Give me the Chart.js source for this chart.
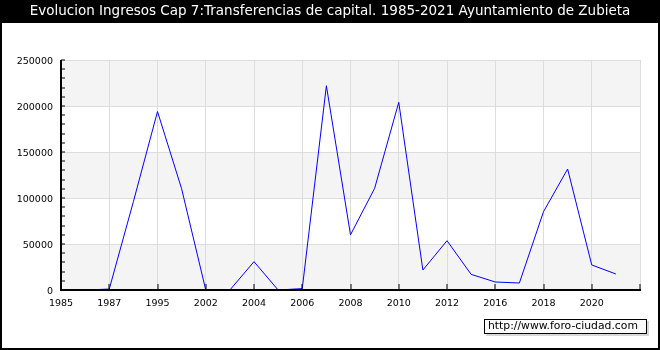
<!DOCTYPE html>
<html>
<head>
<meta charset="utf-8">
<script src="https://cdn.jsdelivr.net/npm/chart.js@4.4.1/dist/chart.umd.min.js"></script>
<style>
  html, body { margin: 0; padding: 0; background: #fff; }
  #wrap { width: 660px; height: 350px; position: relative; }
</style>
</head>
<body>
<div id="wrap"><canvas id="chart"></canvas></div>
<script>
// Years on the category axis (every other one gets a label)
const years = ["1985", "1986", "1987", "1990", "1995", "1999", "2002", "2003", "2004", "2005",
  "2006", "2007", "2008", "2009", "2010", "2011", "2012", "2014", "2016", "2017",
  "2018", "2019", "2020", "2021", ""];

// Ingresos cap. 7
const ingresos = [0, 0, 1000, 96000, 194000, 110000, 0, 0, 30800, 0,
  1500, 222000, 60000, 110500, 204000, 21700, 53600, 17000, 8700, 7600,
  85100, 131500, 27200, 17400, null];

const yTicks = [0, 50000, 100000, 150000, 200000, 250000];

const titleText = "Evolucion Ingresos Cap 7:Transferencias de capital. 1985-2021 Ayuntamiento de Zubieta";
const watermark = "http://www.foro-ciudad.com";

const FONT = "'DejaVu Sans', Verdana, sans-serif";

// background, title bar and alternating bands
const backgroundPlugin = {
  id: "background",
  beforeDraw(chart) {
    const ctx = chart.ctx;
    const area = chart.chartArea;
    const y = chart.scales.y;
    ctx.save();
    ctx.fillStyle = "#ffffff";
    ctx.fillRect(0, 0, chart.width, chart.height);
    ctx.fillStyle = "#000000";
    ctx.fillRect(0, 0, chart.width, 23);
    // bands: gray on 0-50000, 100000-150000, 200000-250000
    ctx.fillStyle = "#f4f4f4";
    for (let i = 0; i < yTicks.length - 1; i += 2) {
      const top = y.getPixelForValue(yTicks[i + 1]);
      const bottom = y.getPixelForValue(yTicks[i]);
      ctx.fillRect(area.left, top, area.right - area.left, bottom - top);
    }
    ctx.restore();
  },
  afterDatasetsDraw(chart) {
    const ctx = chart.ctx;
    const area = chart.chartArea;
    const x = chart.scales.x;
    const y = chart.scales.y;
    ctx.save();
    ctx.fillStyle = "#000000";
    // axes
    ctx.fillRect(area.left - 1, area.top, 2, area.bottom - area.top + 1);
    ctx.fillRect(area.left - 1, area.bottom - 1, area.right - area.left + 2, 2);
    // minor ticks on y axis, inward
    for (let v = 0; v <= 250000; v += 10000) {
      const py = Math.round(y.getPixelForValue(v)) - 0.5;
      ctx.fillRect(area.left, py, 4, 1);
    }
    // ticks on x axis, inward
    for (let i = 2; i < years.length; i += 2) {
      const px = Math.round(x.getPixelForValue(i)) - 0.5;
      ctx.fillRect(px, area.bottom - 6, 1, 6);
    }
    // outer frame
    ctx.fillRect(0, 0, 2, chart.height);
    ctx.fillRect(chart.width - 2, 0, 2, chart.height);
    ctx.fillRect(0, chart.height - 2, chart.width, 2);
    // watermark box
    ctx.fillStyle = "#d8d8d8";
    ctx.fillRect(486, 321, 163, 15);
    ctx.fillStyle = "#fbfbfb";
    ctx.fillRect(484, 319, 163, 15);
    ctx.strokeStyle = "#000000";
    ctx.lineWidth = 1;
    ctx.strokeRect(484.5, 319.5, 162, 14);
    ctx.fillStyle = "#000000";
    ctx.font = "10.8px " + FONT;
    ctx.textBaseline = "middle";
    ctx.textAlign = "left";
    ctx.fillText(watermark, 488, 326.5);
    ctx.restore();
  }
};

const ctxChart = document.getElementById("chart").getContext("2d");
new Chart(ctxChart, {
  type: "line",
  data: {
    labels: years,
    datasets: [
      {
        label: "Ingresos",
        data: ingresos,
        borderColor: "#0000ff",
        borderWidth: 1,
        pointRadius: 0,
        tension: 0,
        fill: false,
        spanGaps: false,
      },
    ],
  },
  options: {
    responsive: true,
    maintainAspectRatio: false,
    animation: false,
    events: [],
    layout: { padding: { top: 0, right: 0, bottom: 40, left: 0 } },
    plugins: {
      legend: { display: false },
      tooltip: { enabled: false },
      title: {
        display: true,
        text: titleText,
        color: "#ffffff",
        font: { family: FONT, size: 13.5, weight: "normal" },
        padding: { top: 3.5, bottom: 40.3 },
      },
    },
    scales: {
      x: {
        type: "category",
        offset: false,
        afterFit: (s) => { s.height = 20; },
        border: { display: false },
        grid: {
          drawTicks: false,
          color: (c) => (c.index > 0 && c.index % 2 === 0 ? "#dcdcdc" : "rgba(0,0,0,0)"),
        },
        ticks: {
          autoSkip: false,
          maxRotation: 0,
          padding: 8,
          color: "#000000",
          font: { family: FONT, size: 9.5 },
          callback: (v, i) => (i % 2 === 0 ? years[i] : ""),
        },
      },
      y: {
        min: 0,
        max: 250000,
        afterFit: (s) => { s.width = 61; },
        border: { display: false },
        grid: { drawTicks: false, color: "#dcdcdc" },
        ticks: {
          stepSize: 50000,
          padding: 8,
          labelOffset: 2,
          color: "#000000",
          font: { family: FONT, size: 9.5 },
          callback: (v) => String(v),
        },
      },
      // empty axis on the right, only keeps the 20px margin so the title stays centred
      yRight: {
        position: "right",
        min: 0,
        max: 250000,
        afterFit: (s) => { s.width = 20; },
        border: { display: false },
        grid: { display: false, drawTicks: false },
        ticks: { display: false },
      },
    },
  },
  plugins: [backgroundPlugin],
});
</script>
</body>
</html>
